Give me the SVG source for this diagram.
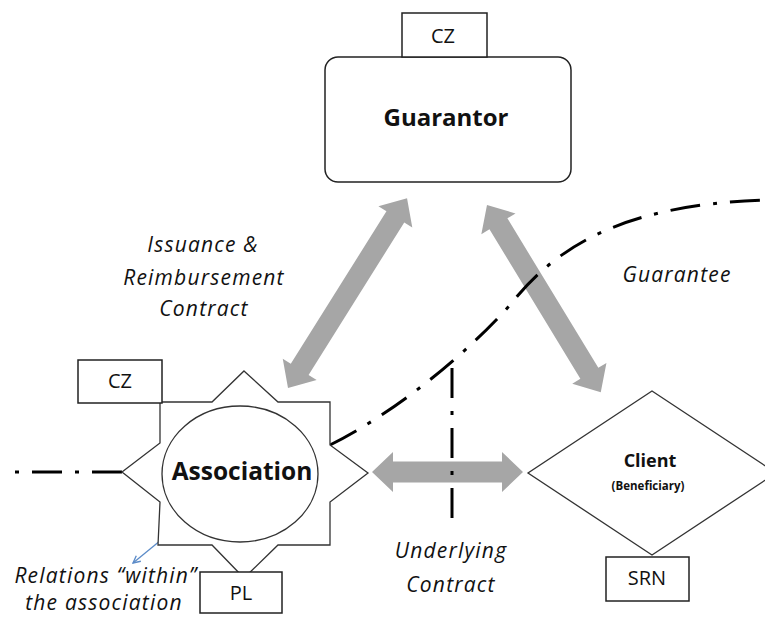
<svg xmlns="http://www.w3.org/2000/svg" width="765" height="617" viewBox="0 0 765 617">
<defs>
<style>
.box{fill:#fff;stroke:#222;stroke-width:1.5}
.shape{fill:#fff;stroke:#333;stroke-width:1.3}
.ga{fill:#a6a6a6}
.dd{fill:none;stroke:#000;stroke-width:3;stroke-dasharray:30 13 4 13}
.lbl{font-family:"Open Sans","Liberation Sans",sans-serif;fill:#111;text-anchor:middle}
.reg{font-size:20px}
.bold{font-weight:bold}
.it{font-style:italic;font-size:21px;letter-spacing:1.2px}
</style>
<marker id="blueHead" viewBox="0 0 10 10" refX="9" refY="5" markerWidth="9" markerHeight="9" markerUnits="userSpaceOnUse" orient="auto">
<path d="M1,1 L9,5 L1,9" fill="none" stroke="#5b8bc8" stroke-width="1.5"/>
</marker>
</defs>
<rect width="765" height="617" fill="#fff"/>

<g id="connectors">
<g transform="translate(288,388) rotate(-57.9)">
<polygon class="ga" points="0,0 22,-20 22,-10.5 202,-10.5 202,-20 224,0 202,20 202,10.5 22,10.5 22,20"/>
</g>
<g transform="translate(487,205) rotate(58.7)">
<polygon class="ga" points="0,0 22,-20 22,-10.5 197,-10.5 197,-20 219,0 197,20 197,10.5 22,10.5 22,20"/>
</g>
<g transform="translate(372,472)">
<polygon class="ga" points="0,0 21,-20 21,-10.5 130,-10.5 130,-20 151,0 130,20 130,10.5 21,10.5 21,20"/>
</g>
<path class="dd" d="M330,445 C400,410 470,350 510,305 C550,255 610,205 765,200"/>
<path class="dd" d="M452,368 L452,522"/>
<path class="dd" d="M122,472 L12,472"/>
<line x1="183" y1="522" x2="133" y2="563" stroke="#5b8bc8" stroke-width="1.3" marker-end="url(#blueHead)"/>
</g>

<g id="guarantor">
<rect class="box" x="325" y="57" width="246" height="125" rx="13"/>
<text class="lbl bold" x="446" y="126" font-size="24">Guarantor</text>
</g>
<g id="guarantor-cz">
<rect class="box" x="402" y="13" width="85" height="44"/>
<text class="lbl reg" x="443" y="43">CZ</text>
</g>

<g id="association">
<polygon class="shape" points="244,371 278,402 330,402 330,445 368,473 330,502 330,545 278,545 244,578 212,545 158,545 160,502 122,472 160,443 160,402 212,402"/>
<ellipse class="shape" cx="240" cy="474" rx="78" ry="68"/>
<text class="lbl bold" x="242" y="480" font-size="24.5">Association</text>
</g>
<g id="association-cz">
<rect class="box" x="78" y="360" width="84" height="43"/>
<text class="lbl reg" x="120" y="388">CZ</text>
</g>
<g id="association-pl">
<rect class="box" x="200" y="572" width="82" height="41"/>
<text class="lbl reg" x="241" y="600">PL</text>
</g>

<g id="client">
<polygon class="shape" points="652,391 776,473 652,555 528,473"/>
<text class="lbl bold" x="650" y="467" font-size="18">Client</text>
<text class="lbl bold" x="648" y="490" font-size="11.5">(Beneficiary)</text>
</g>
<g id="client-srn">
<rect class="box" x="606" y="557" width="83" height="44"/>
<text class="lbl reg" x="647" y="585">SRN</text>
</g>

<g id="labels">
<text class="lbl it" x="203" y="252">Issuance &amp;</text>
<text class="lbl it" x="204" y="285">Reimbursement</text>
<text class="lbl it" x="204" y="316">Contract</text>
<text class="lbl it" x="677" y="282">Guarantee</text>
<text class="lbl it" x="451" y="558">Underlying</text>
<text class="lbl it" x="451" y="592">Contract</text>
<text class="lbl it" x="106" y="583">Relations “within”</text>
<text class="lbl it" x="104" y="610">the association</text>
</g>
</svg>
